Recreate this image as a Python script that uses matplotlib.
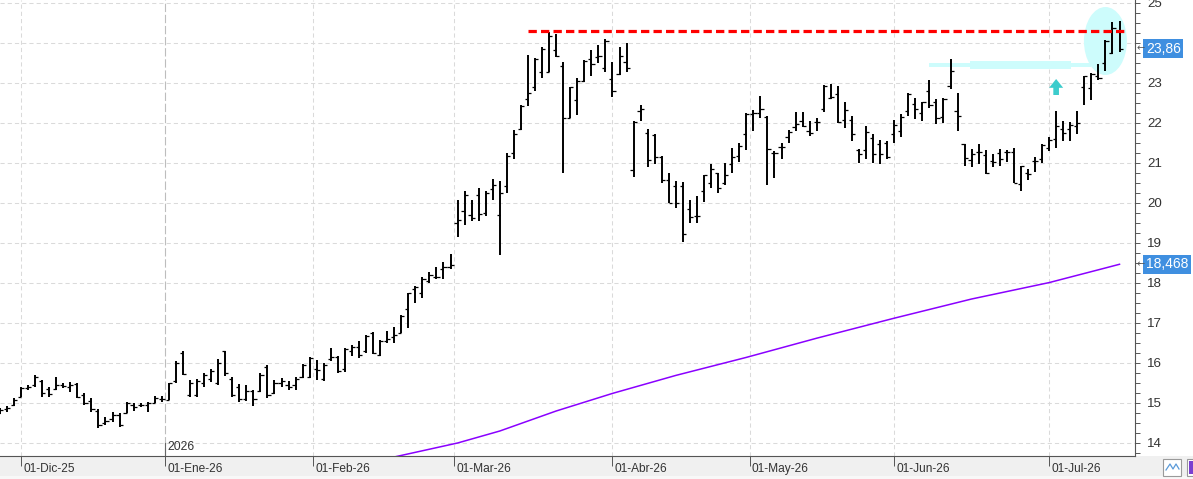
import numpy as np
import pandas as pd
import matplotlib
matplotlib.use("Agg")
import matplotlib.pyplot as plt
from matplotlib import font_manager
from matplotlib.patches import Ellipse, Rectangle, Polygon
from matplotlib.ticker import MultipleLocator, FixedLocator, NullFormatter

# ---------------- data ----------------
start_date = "2025-11-26"
end_date = "2026-07-15"
holidays = ["2025-12-25", "2025-12-26", "2026-01-01", "2026-04-03", "2026-04-06", "2026-05-01"]

opens = [14.75, 14.85, 14.95,
         15.15, 15.38, 15.45, 15.55, 15.35, 15.35, 15.45, 15.40, 15.48, 15.20,
         15.05, 14.80, 14.50, 14.60, 14.70, 14.75, 14.95, 14.95, 14.95, 15.00,
         15.10, 15.08, 15.55, 16.25, 15.20, 15.20, 15.50, 15.60, 15.50, 16.30,
         15.60, 15.40, 15.10, 15.30, 15.30, 15.90, 15.25, 15.50, 15.45, 15.45,
         15.65, 15.65, 15.85, 15.60, 16.10, 16.15, 15.85, 16.30, 16.40, 16.30,
         16.75, 16.20, 16.55, 16.65, 16.75, 17.35, 17.85, 17.75, 18.05, 18.15,
         18.35, 18.40, 19.49, 19.80, 19.70, 20.20, 19.76, 20.34, 19.70, 20.42,
         21.24, 21.85, 22.59, 22.91, 23.27, 23.27, 23.83, 23.43, 22.12, 22.58,
         23.05, 23.59, 23.64, 23.37, 23.09, 23.22, 23.52, 20.83, 22.30, 21.74,
         21.70, 21.16, 20.58, 20.43, 20.43, 19.84, 19.67, 20.30, 20.49, 20.74,
         20.49, 20.98, 21.18, 21.72, 22.22, 22.24, 22.16, 21.24, 21.39, 21.64,
         21.91, 22.05, 21.81, 22.03, 22.34, 22.63, 22.73, 22.08, 22.08, 21.33,
         21.33, 21.62, 21.47, 21.49, 21.72, 21.80, 22.30, 22.47, 22.26, 22.80,
         22.52, 22.14, 22.92, 22.30, 21.47, 21.08, 21.27, 21.20, 21.05, 21.24,
         21.27, 21.28, 20.47, 20.74, 21.05, 21.10, 21.37, 21.59, 21.84, 21.84,
         21.93, 22.89, 22.87, 23.18, 23.51, 23.75, 24.30]
highs = [14.87, 14.93, 15.12,
         15.41, 15.45, 15.70, 15.58, 15.41, 15.64, 15.49, 15.53, 15.51, 15.26,
         15.12, 14.84, 14.66, 14.78, 14.74, 15.03, 15.01, 15.01, 15.03, 15.17,
         15.17, 15.51, 16.06, 16.31, 15.58, 15.59, 15.76, 15.84, 16.09, 16.31,
         15.64, 15.48, 15.45, 15.33, 15.76, 15.95, 15.58, 15.62, 15.56, 15.64,
         15.97, 16.14, 16.08, 16.01, 16.37, 16.18, 16.37, 16.45, 16.55, 16.70,
         16.78, 16.57, 16.80, 16.89, 17.20, 17.76, 17.93, 18.14, 18.27, 18.39,
         18.52, 18.73, 20.08, 20.31, 20.08, 20.37, 20.30, 20.59, 20.55, 21.24,
         21.83, 22.45, 23.70, 23.63, 23.89, 24.28, 24.22, 23.52, 22.91, 23.12,
         23.58, 23.83, 23.95, 24.09, 23.53, 23.91, 23.99, 22.04, 22.45, 21.84,
         21.72, 21.18, 20.76, 20.55, 20.52, 20.07, 20.18, 20.70, 20.97, 20.74,
         20.99, 21.37, 21.51, 22.24, 22.33, 22.68, 22.18, 21.31, 21.49, 21.83,
         22.28, 22.28, 22.05, 22.12, 22.95, 22.98, 22.92, 22.52, 22.18, 21.35,
         21.93, 21.73, 21.58, 21.56, 22.08, 22.23, 22.76, 22.62, 22.53, 23.08,
         22.59, 22.62, 23.60, 22.74, 21.47, 21.34, 21.47, 21.33, 21.23, 21.35,
         21.33, 21.37, 20.92, 20.84, 21.14, 21.47, 21.66, 22.30, 22.05, 22.03,
         22.30, 23.18, 23.24, 23.48, 24.08, 24.52, 24.55]
lows = [14.73, 14.78, 14.93,
        15.14, 15.33, 15.41, 15.16, 15.16, 15.33, 15.37, 15.28, 15.12, 14.95,
        14.78, 14.37, 14.45, 14.53, 14.41, 14.74, 14.81, 14.91, 14.78, 14.99,
        15.03, 15.08, 15.51, 15.70, 15.14, 15.16, 15.41, 15.53, 15.45, 15.68,
        15.16, 15.03, 15.06, 14.93, 15.28, 15.12, 15.23, 15.41, 15.33, 15.33,
        15.62, 15.62, 15.58, 15.56, 16.06, 15.74, 15.78, 16.18, 16.13, 16.26,
        16.23, 16.18, 16.49, 16.49, 16.74, 16.88, 17.49, 17.62, 18.01, 18.09,
        18.09, 18.34, 19.16, 19.44, 19.56, 19.56, 19.68, 20.08, 18.70, 20.24,
        21.09, 21.83, 22.43, 22.81, 23.12, 23.27, 23.64, 20.76, 22.12, 22.20,
        23.03, 23.18, 23.49, 23.28, 22.66, 23.20, 23.28, 20.66, 22.06, 20.89,
        20.97, 20.49, 19.99, 19.87, 19.03, 19.49, 19.49, 20.03, 20.37, 20.24,
        20.45, 20.76, 21.03, 21.33, 21.81, 22.12, 20.45, 20.63, 21.10, 21.49,
        21.81, 21.89, 21.68, 21.81, 22.27, 22.59, 22.01, 21.88, 21.56, 21.01,
        21.09, 20.99, 20.97, 21.09, 21.51, 21.66, 22.18, 22.09, 22.06, 22.38,
        21.97, 21.99, 22.84, 21.81, 20.93, 20.89, 20.98, 20.72, 20.91, 20.92,
        21.03, 20.49, 20.31, 20.58, 20.77, 20.99, 21.30, 21.38, 21.55, 21.55,
        21.72, 22.45, 22.58, 23.08, 23.30, 23.72, 23.77]
closes = [14.83, 14.88, 15.08,
          15.38, 15.40, 15.65, 15.25, 15.22, 15.45, 15.42, 15.45, 15.15, 15.00,
          14.85, 14.45, 14.55, 14.70, 14.45, 15.00, 14.90, 14.95, 15.00, 15.12,
          15.10, 15.50, 16.00, 15.72, 15.50, 15.55, 15.70, 15.80, 16.00, 15.75,
          15.20, 15.10, 15.30, 15.10, 15.70, 15.20, 15.50, 15.55, 15.40, 15.60,
          15.95, 16.12, 15.82, 15.95, 16.15, 15.80, 16.35, 16.40, 16.20, 16.68,
          16.25, 16.55, 16.60, 16.70, 17.18, 17.75, 17.90, 18.10, 18.20, 18.15,
          18.40, 18.45, 19.58, 20.20, 19.62, 19.73, 20.26, 20.45, 20.24, 21.17,
          21.72, 22.43, 22.74, 23.60, 23.84, 24.17, 23.68, 22.12, 22.91, 23.06,
          23.56, 23.48, 23.67, 24.06, 22.80, 23.68, 23.37, 22.02, 22.34, 21.08,
          21.14, 20.58, 20.01, 19.99, 19.23, 19.66, 19.68, 20.70, 20.85, 20.38,
          20.70, 21.16, 21.43, 22.22, 22.24, 22.34, 21.34, 21.26, 21.41, 21.78,
          21.97, 21.93, 21.76, 22.02, 22.93, 22.66, 22.03, 22.33, 21.72, 21.22,
          21.78, 21.22, 21.22, 21.14, 21.95, 22.14, 22.72, 22.34, 22.52, 22.45,
          22.12, 22.60, 23.30, 22.18, 21.12, 21.22, 21.28, 20.74, 21.03, 21.10,
          21.27, 20.49, 20.92, 20.72, 21.05, 21.45, 21.58, 21.93, 21.76, 21.95,
          21.99, 23.18, 23.22, 23.12, 24.06, 24.37, 23.86]

# moving average, read at selected sessions
ma_dates = ["2026-02-17", "2026-03-02", "2026-03-10", "2026-03-20", "2026-04-01",
            "2026-04-16", "2026-04-30", "2026-05-15", "2026-06-01", "2026-06-16",
            "2026-07-01", "2026-07-10", "2026-07-15"]
ma_values = [13.65, 14.00, 14.30, 14.80, 15.24, 15.69, 16.14, 16.62, 17.12, 17.60,
             18.01, 18.33, 18.468]

month_starts = ["2025-12-01", "2026-01-01", "2026-02-01", "2026-03-01",
                "2026-04-01", "2026-05-01", "2026-06-01", "2026-07-01"]
month_labels = ["01-Dic-25", "01-Ene-26", "01-Feb-26", "01-Mar-26",
                "01-Abr-26", "01-May-26", "01-Jun-26", "01-Jul-26"]
year_start = "2026-01-01"
year_label = "2026"

last_close = 23.86
last_ma = 18.468
last_close_label = "23,86"
last_ma_label = "18,468"

resistance_level = 24.30
resistance_start = "2026-03-16"
breakout_level = 23.45
breakout_start = "2026-06-08"
breakout_end = "2026-07-09"
highlight_date = "2026-07-13"
highlight_price = 24.05
arrow_date = "2026-07-02"
arrow_base, arrow_tip = 22.70, 23.10

y_ticks = list(range(14, 26))
hidden_tick = 24  # covered by the last-close marker

# ---------------- fonts ----------------
names = {f.name for f in font_manager.fontManager.ttflist}
narrow = "Liberation Sans Narrow" if "Liberation Sans Narrow" in names else "Liberation Sans"
plt.rcParams["font.family"] = [narrow, "DejaVu Sans"]
plt.rcParams["lines.scale_dashes"] = False

# ---------------- sessions ----------------
dates = pd.bdate_range(start_date, end_date)
dates = dates[~dates.isin(pd.to_datetime(holidays))]
pos = np.arange(len(dates))


def date_pos(d):
    d = pd.Timestamp(d)
    k = int(dates.searchsorted(d))
    if k < len(dates) and dates[k] == d:
        return float(k)
    return k - 0.5


W, H = 1193, 479
fig = plt.figure(figsize=(W / 100, H / 100), dpi=100)
fig.patch.set_facecolor("white")
fig.add_artist(Rectangle((0, 0), 1, 23 / H, transform=fig.transFigure,
                         facecolor="#f0f0f0", edgecolor="none", zorder=0))
fig.add_artist(Rectangle((0, 0), 1, 3 / H, transform=fig.transFigure,
                         facecolor="#f8f8f8", edgecolor="none", zorder=0))

ax = fig.add_axes([0, 23 / H, 1135 / W, 456 / H])
x0 = date_pos("2025-12-01")
ax.set_xlim(x0 - 2.98, x0 + 158.2)
ax.set_ylim(13.675, 25.075)

# grid
for yv in y_ticks:
    ax.axhline(yv, color="#dadada", lw=0.75, dashes=(3, 2.2), zorder=0.5)
month_pos = [date_pos(m) for m in month_starts]
ypos = date_pos(year_start)
for mp in month_pos:
    if mp == ypos:
        ax.axvline(mp, color="#bdbdbd", lw=0.8, dashes=(6, 2), zorder=0.5)
        ax.axvline(mp, ymin=0, ymax=13 / 456, color="#666666", lw=0.8, zorder=0.6)
    else:
        ax.axvline(mp, color="#dadada", lw=0.75, dashes=(3, 2.2), zorder=0.5)

# highlight shapes
bs, be = date_pos(breakout_start), date_pos(breakout_end)
cyan = "#cdfcfc"
ax.add_patch(Rectangle((bs, breakout_level - 0.045), be - bs, 0.09,
                       facecolor=cyan, edgecolor="none", zorder=1))
ax.add_patch(Rectangle((bs + 5.8, breakout_level - 0.09), (be - bs) - 8.7, 0.18,
                       facecolor=cyan, edgecolor="none", zorder=1))
ax.add_patch(Ellipse((date_pos(highlight_date), highlight_price), 6.1, 1.7,
                     facecolor=cyan, edgecolor="none", zorder=1))

# OHLC bars
o, h, l, c = map(np.asarray, (opens, highs, lows, closes))
ax.vlines(pos, l, h, color="black", lw=1.4, zorder=3)
ax.hlines(o, pos - 0.45, pos, color="black", lw=0.9, zorder=3)
ax.hlines(c, pos, pos + 0.45, color="black", lw=0.9, zorder=3)

# moving average
ax.plot([date_pos(d) for d in ma_dates], ma_values, color="#8a00ff", lw=1.1, zorder=2)

# resistance
rs = date_pos(resistance_start)
ax.plot([rs, pos[-1] + 0.8], [resistance_level, resistance_level],
        color="#ff0000", lw=2.3, dashes=(6, 3), zorder=4, solid_capstyle="butt",
        dash_capstyle="butt")

# arrow
ap = date_pos(arrow_date)
hw, sw = 1.0, 0.4
mid = arrow_base + (arrow_tip - arrow_base) * 0.45
ax.add_patch(Polygon([(ap - hw, mid), (ap, arrow_tip), (ap + hw, mid), (ap + sw, mid),
                      (ap + sw, arrow_base), (ap - sw, arrow_base), (ap - sw, mid)],
                     closed=True, facecolor="#3ccccc", edgecolor="none", zorder=4))

# axes styling
for s in ("left", "top"):
    ax.spines[s].set_visible(False)
ax.spines["right"].set_color("#555555")
ax.spines["bottom"].set_color("#555555")
ax.spines["right"].set_linewidth(0.8)
ax.spines["bottom"].set_linewidth(0.8)
ax.yaxis.tick_right()
ax.yaxis.set_major_locator(FixedLocator(y_ticks))
ax.yaxis.set_minor_locator(MultipleLocator(0.25))
ax.set_yticklabels(["" if v == hidden_tick else str(v) for v in y_ticks])
ax.tick_params(axis="y", which="both", direction="out", length=3.6, width=0.7,
               color="#555555", labelsize=9.6, labelcolor="#333333", pad=5)
ax.xaxis.set_major_locator(FixedLocator(month_pos))
ax.xaxis.set_major_formatter(NullFormatter())
ax.tick_params(axis="x", which="major", direction="out", length=7, width=0.7,
               color="#555555")
xt = ax.get_xaxis_transform()
for mp, lab in zip(month_pos, month_labels):
    ax.annotate(lab, xy=(mp, 0), xycoords=xt, xytext=(1.5, -9.5),
                textcoords="offset points", ha="left", va="center",
                fontsize=8.6, color="#333333", annotation_clip=False)
ax.annotate(year_label, xy=(ypos, 0), xycoords=xt, xytext=(1.5, 6.5),
            textcoords="offset points", ha="left", va="center",
            fontsize=8.8, color="#333333")

# last value labels
yt = ax.get_yaxis_transform()
for val, lab in ((last_close, last_close_label), (last_ma, last_ma_label)):
    ax.text(1.0095, val, lab, transform=yt, ha="left", va="center", fontsize=10,
            color="white", zorder=10, clip_on=False,
            bbox=dict(boxstyle="square,pad=0.18", facecolor="#3f8fe0", edgecolor="none"))
    ax.text(1.0015, val, "\u2190", transform=yt, ha="left", va="center", fontsize=7,
            color="#555555", family="DejaVu Sans", zorder=10, clip_on=False)

# bottom right icons
fig.add_artist(Rectangle((1163 / W, 3 / H), 18 / W, 17 / H, transform=fig.transFigure,
                         facecolor="white", edgecolor="#9a9a9a", lw=0.8, zorder=5))
fig.add_artist(plt.Line2D([1166 / W, 1170 / W, 1173 / W, 1176 / W, 1179 / W],
                          [9 / H, 15 / H, 10 / H, 15 / H, 10 / H],
                          transform=fig.transFigure, color="#5a9ad8", lw=0.9, zorder=6))
fig.add_artist(Rectangle((1187 / W, 3 / H), 10 / W, 17 / H, transform=fig.transFigure,
                         facecolor="white", edgecolor="#9a9a9a", lw=0.8, zorder=5))
fig.add_artist(Rectangle((1189 / W, 5 / H), 8 / W, 13 / H, transform=fig.transFigure,
                         facecolor="#7a3fd0", edgecolor="none", zorder=6))

fig.savefig("out.png", dpi=100)
